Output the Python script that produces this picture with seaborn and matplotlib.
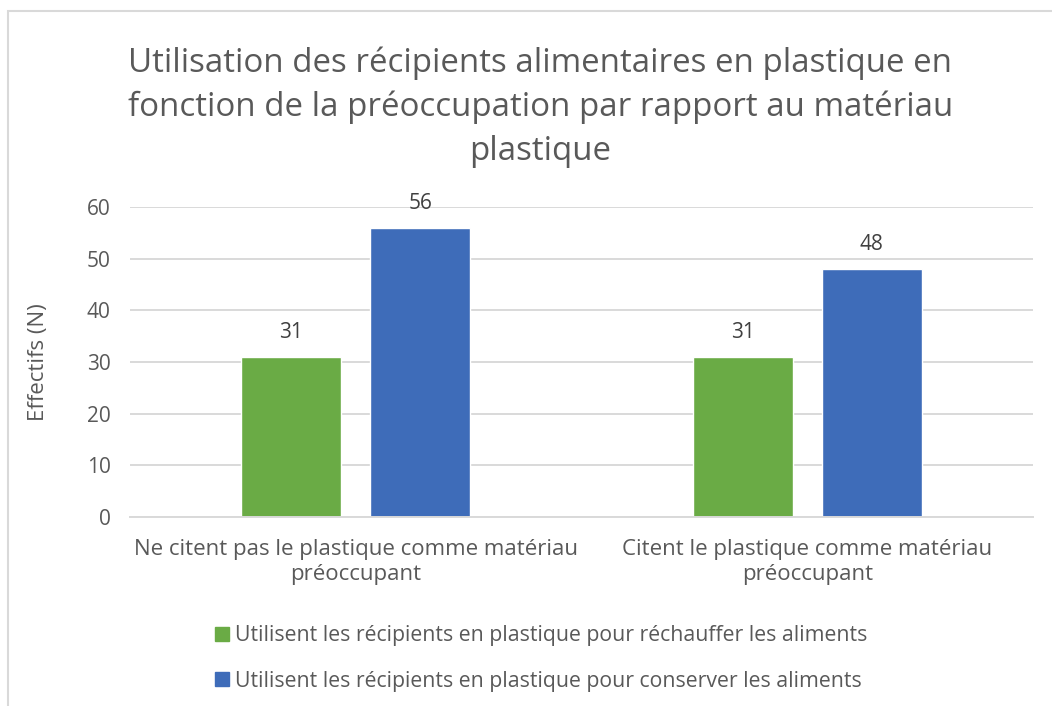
import matplotlib
matplotlib.use("Agg")
import matplotlib.pyplot as plt
from matplotlib.patches import Rectangle
from matplotlib.lines import Line2D
import seaborn as sns
import pandas as pd

# Data
categories = [
    "Ne citent pas le plastique comme matériau\npréoccupant",
    "Citent le plastique comme matériau\npréoccupant",
]
series_names = [
    "Utilisent les récipients en plastique pour réchauffer les aliments",
    "Utilisent les récipients en plastique pour conserver les aliments",
]
rechauffer = [31, 31]
conserver = [56, 48]
colors = ["#6AAB45", "#3E6CB9"]
title = ("Utilisation des récipients alimentaires en plastique en\n"
         "fonction de la préoccupation par rapport au matériau\n"
         "plastique")
y_ticks = [0, 10, 20, 30, 40, 50, 60]

df = pd.DataFrame({
    "categorie": categories * 2,
    "serie": [series_names[0]] * 2 + [series_names[1]] * 2,
    "effectif": rechauffer + conserver,
})

sns.set_theme(style="white")
plt.rcParams["font.family"] = ["Open Sans", "DejaVu Sans"]
text_color = "#595959"
grid_color = "#D9D9D9"

fig = plt.figure(figsize=(10.52, 7.06), dpi=100)
ax = fig.add_axes([0.1236, 0.2677, 0.8584, 0.4391])

sns.barplot(data=df, x="categorie", y="effectif", hue="serie",
            hue_order=series_names, palette=colors, width=0.571, gap=0.225,
            saturation=1, ax=ax, legend=False)

ax.set_ylim(0, 60)
ax.set_yticks(y_ticks)
ax.yaxis.grid(True, color=grid_color, linewidth=1.4)
ax.set_axisbelow(True)
for side in ["top", "right", "left"]:
    ax.spines[side].set_visible(False)
ax.spines["bottom"].set_color(grid_color)
ax.spines["bottom"].set_linewidth(1.4)
ax.tick_params(axis="y", length=0, pad=14, labelsize=15, labelcolor=text_color)
ax.tick_params(axis="x", length=0, pad=16, labelsize=16, labelcolor=text_color)
for lbl in ax.get_xticklabels():
    lbl.set_linespacing(1.25)
ax.set_xlabel("")
ax.set_ylabel("Effectifs (N)", fontsize=16, color=text_color, labelpad=27)

for container in ax.containers:
    ax.bar_label(container, padding=10, fontsize=15, color="#404040")

fig.suptitle(title, x=0.5135, y=0.848, va="center", fontsize=23.8,
             color=text_color, linespacing=1.44)

handles = [Line2D([0], [0], marker="s", linestyle="", markersize=9.5,
                  markerfacecolor=c, markeredgecolor=c) for c in colors]
fig.legend(handles, series_names, loc="center", bbox_to_anchor=(0.513, 0.067),
           ncol=1, frameon=False, fontsize=15.3, labelcolor=text_color,
           labelspacing=1.15, handletextpad=0.1, handlelength=1.0)

# Chart area border
fig.patches.append(Rectangle((8 / 1052, -0.05), 1.1, 1 - 11 / 706 + 0.05,
                             transform=fig.transFigure, fill=False,
                             edgecolor="#D9D9D9", linewidth=1.5))

fig.savefig("out.png", dpi=100)
